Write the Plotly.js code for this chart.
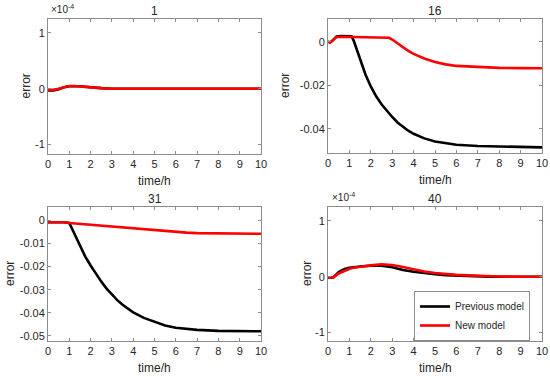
<!DOCTYPE html>
<html><head><meta charset="utf-8">
<script src="https://cdn.plot.ly/plotly-3.0.1.min.js"></script>
<style>body{margin:0;background:#fff}#c{width:550px;height:377px}</style>
</head><body><div id="c"></div>
<script>
// Panel 1 (values in units of 1e-4)
const t1 = [0,0.25,0.5,0.75,1.0,1.25,1.5,1.75,2.0,2.5,3,4,5,6,7,8,9,10];
const p1prev = [-0.03,-0.03,-0.01,0.025,0.045,0.05,0.045,0.035,0.025,0.01,0.0,0,0,0,0,0,0,0];
const p1new  = [-0.02,-0.02,0.0,0.03,0.05,0.05,0.045,0.035,0.025,0.01,0.0,0,0,0,0,0,0,0];
// Panel 16
const t2prev = [0,0.1,0.2,0.3,0.4,0.6,0.8,1.0,1.1,1.2,1.3,1.5,1.75,2.0,2.25,2.5,2.75,3,3.25,3.5,3.75,4,4.5,5,5.5,6,7,8,9,10];
const p2prev = [0,-0.0004,0.0004,0.0016,0.0024,0.0026,0.0026,0.0026,0.0025,0.0005,-0.0025,-0.0085,-0.0150,-0.0205,-0.0250,-0.0287,-0.0318,-0.0345,-0.0370,-0.0391,-0.0408,-0.0422,-0.0443,-0.0457,-0.0466,-0.0472,-0.0478,-0.0481,-0.0483,-0.0484];
const t2new  = [0,0.1,0.2,0.3,0.4,0.6,1.0,1.5,2.0,2.5,2.85,3.0,3.25,3.5,3.75,4,4.25,4.5,5,5.5,6,7,8,9,10];
const p2new  = [0,-0.0004,0.0004,0.0015,0.0022,0.0023,0.0022,0.0021,0.0020,0.0019,0.0018,0.0010,-0.0008,-0.0026,-0.0042,-0.0056,-0.0067,-0.0077,-0.0093,-0.0104,-0.0111,-0.0117,-0.0120,-0.0121,-0.0122];
// Panel 31
const t3prev = [0,0.25,0.5,0.75,1.0,1.25,1.5,1.75,2.0,2.25,2.5,2.75,3,3.25,3.5,3.75,4,4.5,5,5.5,6,7,8,9,10];
const p3prev = [-0.0008,-0.0007,-0.0006,-0.0008,-0.0011,-0.0060,-0.0110,-0.0157,-0.0195,-0.0232,-0.0265,-0.0295,-0.0322,-0.0345,-0.0365,-0.0383,-0.0398,-0.0422,-0.0440,-0.0455,-0.0465,-0.0474,-0.0478,-0.0479,-0.0480];
const t3new  = [0,0.25,0.5,0.75,1.0,1.5,2.0,2.5,3,3.5,4,4.5,5,5.5,6,6.5,7,8,9,10];
const p3new  = [-0.0008,-0.0007,-0.0006,-0.0008,-0.0011,-0.0015,-0.0019,-0.0022,-0.0025,-0.0029,-0.0033,-0.0038,-0.0043,-0.0048,-0.0051,-0.0053,-0.0055,-0.0057,-0.0058,-0.0058];
// Panel 40 (values in units of 1e-4)
const t4 = [0,0.25,0.5,0.75,1.0,1.25,1.5,2.0,2.5,3,3.5,4,4.5,5,5.5,6,6.5,7,7.5,8,9,10];
const p4prev = [-0.01,-0.01,0.085,0.135,0.16,0.175,0.185,0.198,0.198,0.17,0.12,0.09,0.065,0.045,0.03,0.02,0.012,0.006,0.003,0.0,0,0];
const p4new  = [-0.01,-0.01,0.06,0.11,0.145,0.165,0.18,0.205,0.225,0.212,0.175,0.13,0.095,0.068,0.048,0.035,0.025,0.017,0.01,0.005,0,0];

const titles = ['1','16','31','40'];
const xTicks = [0,1,2,3,4,5,6,7,8,9,10];
const legendNames = ['Previous model','New model'];

const W=550,H=377;
const boxes = [ // px: left,right,top,bottom
  [48,261,19,154],[328,542,19,153],[48,261,207,341],[328,542,207,341]];
const ranges = [[-1.17,1.25],[-0.051,0.0104],[-0.0522,0.0058],[-1.15,1.25]];
const yticks = [[-1,0,1],[-0.04,-0.02,0],[-0.05,-0.04,-0.03,-0.02,-0.01,0],[-1,0,1]];
const ytext = [['-1','0','1'],['-0.04','-0.02','0'],['-0.05','-0.04','-0.03','-0.02','-0.01','0'],['-1','0','1']];

const txt = '#262626', ax = '#8c8c8c';
const font = {family:'Liberation Sans, Arial, sans-serif', size:11, color:txt};
const data = [];
const series = [[t1,p1prev,t1,p1new],[t2prev,p2prev,t2new,p2new],[t3prev,p3prev,t3new,p3new],[t4,p4prev,t4,p4new]];
series.forEach((s,i)=>{
  const xa = i===0?'x':'x'+(i+1), ya = i===0?'y':'y'+(i+1);
  data.push({x:s[0],y:s[1],xaxis:xa,yaxis:ya,mode:'lines',line:{color:'#000000',width:2.6},name:legendNames[0],showlegend:i===3});
  data.push({x:s[2],y:s[3],xaxis:xa,yaxis:ya,mode:'lines',line:{color:'#ff0000',width:2.6},name:legendNames[1],showlegend:i===3});
});
const layout = {width:W,height:H,margin:{l:0,r:0,t:0,b:0},paper_bgcolor:'#fff',plot_bgcolor:'#fff',font:font,
  showlegend:true,
  legend:{x:414/W,y:1-291/H,xanchor:'left',yanchor:'top',bordercolor:ax,borderwidth:1,bgcolor:'#fff',
    font:{family:font.family,size:10,color:txt},itemwidth:30,tracegroupgap:0},
  annotations:[]};
boxes.forEach((b,i)=>{
  const k = i===0?'':(i+1);
  layout['xaxis'+k] = {domain:[b[0]/W,b[1]/W],anchor:'y'+k,range:[0,10],tickvals:xTicks,ticks:'inside',ticklen:3,
    tickcolor:ax,linecolor:ax,linewidth:1,mirror:'ticks',showgrid:false,zeroline:false,tickfont:font,fixedrange:true};
  layout['yaxis'+k] = {domain:[1-b[3]/H,1-b[2]/H],anchor:'x'+k,range:ranges[i],tickvals:yticks[i],ticktext:ytext[i],ticks:'inside',ticklen:3,
    tickcolor:ax,linecolor:ax,linewidth:1,mirror:'ticks',showgrid:false,zeroline:false,tickfont:font,fixedrange:true};
  const cx=(b[0]+b[1])/2/W;
  layout.annotations.push({text:titles[i],x:cx,y:1-(b[2]-8)/H,xref:'paper',yref:'paper',showarrow:false,xanchor:'center',yanchor:'middle',font:{family:font.family,size:12,color:txt}});
  layout.annotations.push({text:'time/h',x:cx,y:1-(b[3]+27)/H,xref:'paper',yref:'paper',showarrow:false,xanchor:'center',yanchor:'middle',font:{family:font.family,size:12,color:txt}});
});
const ylabX=[25,285,10,307];
boxes.forEach((b,i)=>{
  layout.annotations.push({text:'error',textangle:-90,x:ylabX[i]/W,y:1-(b[2]+b[3])/2/H,xref:'paper',yref:'paper',showarrow:false,xanchor:'center',yanchor:'middle',font:{family:font.family,size:12,color:txt}});
});
[[0,49],[3,330]].forEach(([i,x])=>{
  const b=boxes[i];
  layout.annotations.push({text:'×10<sup>-4</sup>',x:x/W,y:1-(b[2]-2)/H,xref:'paper',yref:'paper',showarrow:false,xanchor:'left',yanchor:'bottom',font:{family:font.family,size:10,color:txt}});
});
Plotly.newPlot('c',data,layout,{displayModeBar:false,staticPlot:true});
</script></body></html>
